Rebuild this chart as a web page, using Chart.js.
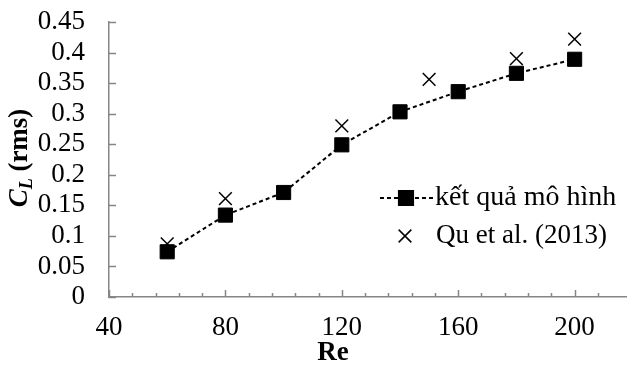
<!DOCTYPE html>
<html>
<head>
<meta charset="utf-8">
<script src="https://cdn.jsdelivr.net/npm/chart.js@4.4.1/dist/chart.umd.min.js"></script>
<style>
  html, body { margin: 0; padding: 0; background: #ffffff; overflow: hidden; }
  #wrap { position: relative; width: 627px; height: 371px; }
</style>
</head>
<body>
<div id="wrap"><canvas id="c" width="627" height="371"></canvas></div>
<script>
// ---- data ----
const reModel = [60, 80, 100, 120, 140, 160, 180, 200];
const clModel = [0.074, 0.134, 0.171, 0.249, 0.303, 0.336, 0.366, 0.389];
const reQu = [60, 80, 120, 150, 180, 200];
const clQu = [0.087, 0.161, 0.280, 0.356, 0.390, 0.422];
const seriesNames = ['kết quả mô hình', 'Qu et al. (2013)'];
const xTickLabels = ['40', '80', '120', '160', '200'];
const yTickLabels = ['0', '0.05', '0.1', '0.15', '0.2', '0.25', '0.3', '0.35', '0.4', '0.45'];
const xTitle = 'Re';
const yTitleMain = 'C';
const yTitleSub = 'L';
const yTitleRest = ' (rms)';

const FONT = "'Liberation Serif', 'Times New Roman', serif";
const AXIS_COLOR = '#868686';

const pairs = (xs, ys) => xs.map((x, i) => ({ x: x, y: ys[i] }));

const decorPlugin = {
  id: 'decor',
  afterDraw(chart) {
    const ctx = chart.ctx;
    const ca = chart.chartArea;
    const xs = chart.scales.x, ys = chart.scales.y;
    ctx.save();
    // inward tick marks
    ctx.strokeStyle = AXIS_COLOR;
    ctx.lineWidth = 1.5;
    ys.ticks.forEach(t => {
      const yp = Math.round(ys.getPixelForValue(t.value)) + 0.5;
      ctx.beginPath();
      ctx.moveTo(ca.left, yp);
      ctx.lineTo(ca.left + 7, yp);
      ctx.stroke();
    });
    xs.ticks.forEach(t => {
      const v = Math.round(t.value);
      if (v % 8 !== 0) return;
      const xp = Math.round(xs.getPixelForValue(t.value)) + 0.5;
      const len = (v % 40 === 0) ? 7 : 4;
      ctx.beginPath();
      ctx.moveTo(xp, ca.bottom);
      ctx.lineTo(xp, ca.bottom - len);
      ctx.stroke();
    });

    // axis titles
    ctx.fillStyle = '#000';
    ctx.textBaseline = 'alphabetic';
    ctx.font = 'bold 27px ' + FONT;
    ctx.textAlign = 'center';
    ctx.fillText(xTitle, 333, 360);

    // y title (rotated, with subscript)
    const fMain = 'italic bold 27px ' + FONT;
    const fSub = 'italic bold 18px ' + FONT;
    const fRest = 'bold 27px ' + FONT;
    ctx.font = fMain; const w1 = ctx.measureText(yTitleMain).width;
    ctx.font = fSub; const w2 = ctx.measureText(yTitleSub).width;
    ctx.font = fRest; const w3 = ctx.measureText(yTitleRest).width;
    const total = w1 + w2 + w3;
    ctx.translate(27, 158);
    ctx.rotate(-Math.PI / 2);
    ctx.textAlign = 'left';
    let px = -total / 2;
    ctx.font = fMain; ctx.fillText(yTitleMain, px, 0); px += w1;
    ctx.font = fSub; ctx.fillText(yTitleSub, px, 5); px += w2;
    ctx.font = fRest; ctx.fillText(yTitleRest, px, 0);
    ctx.setTransform(1, 0, 0, 1, 0, 0);

    // legend
    const d0 = chart.data.datasets[0], d1 = chart.data.datasets[1];
    ctx.textBaseline = 'middle';
    ctx.textAlign = 'left';
    // row 1
    const r1 = 198;
    ctx.strokeStyle = d0.borderColor;
    ctx.lineWidth = d0.borderWidth;
    ctx.setLineDash(d0.borderDash);
    ctx.beginPath();
    ctx.moveTo(380, r1);
    ctx.lineTo(433, r1);
    ctx.stroke();
    ctx.setLineDash([]);
    ctx.fillStyle = '#000';
    Chart.helpers.drawPoint(ctx, { pointStyle: 'rect', radius: d0.pointRadius, borderWidth: 1 }, 406, r1);
    ctx.font = '28px ' + FONT;
    ctx.fillText(seriesNames[0], 435, r1);
    // row 2
    const r2 = 236;
    ctx.strokeStyle = d1.pointBorderColor;
    ctx.lineWidth = d1.pointBorderWidth;
    Chart.helpers.drawPoint(ctx, { pointStyle: 'crossRot', radius: d1.pointRadius, borderWidth: d1.pointBorderWidth }, 405, r2);
    ctx.font = '27px ' + FONT;
    ctx.fillText(seriesNames[1], 436, r2);
    ctx.restore();
  }
};

const chart = new Chart(document.getElementById('c'), {
  type: 'scatter',
  data: {
    datasets: [
      {
        label: seriesNames[0],
        data: pairs(reModel, clModel),
        showLine: true,
        borderColor: '#000',
        borderWidth: 2,
        borderDash: [4, 3],
        pointStyle: 'rect',
        pointRadius: 10,
        pointBackgroundColor: '#000',
        pointBorderColor: '#000',
        pointBorderWidth: 1,
        pointHoverRadius: 10
      },
      {
        label: seriesNames[1],
        data: pairs(reQu, clQu),
        showLine: false,
        pointStyle: 'crossRot',
        pointRadius: 9,
        pointBorderColor: '#000',
        pointBackgroundColor: '#000',
        pointBorderWidth: 1.5,
        pointHoverRadius: 9
      }
    ]
  },
  options: {
    responsive: false,
    animation: false,
    devicePixelRatio: 1,
    layout: { autoPadding: false, padding: { left: 0, right: 0, top: 22, bottom: 0 } },
    plugins: { legend: { display: false }, tooltip: { enabled: false } },
    scales: {
      x: {
        type: 'linear',
        min: 40,
        max: 218,
        grid: { display: false, drawTicks: false },
        border: { display: true, color: AXIS_COLOR, width: 1.5 },
        ticks: {
          stepSize: 8,
          autoSkip: false,
          maxRotation: 0,
          padding: 15,
          color: '#000',
          font: { family: FONT, size: 27 },
          callback: (v) => {
            const r = Math.round(v);
            const idx = xTickLabels.indexOf(String(r));
            return (r % 40 === 0 && idx >= 0) ? xTickLabels[idx] : '';
          }
        },
        afterFit: (s) => { s.height = 74; s.paddingLeft = 0; s.paddingRight = 0; }
      },
      y: {
        type: 'linear',
        min: 0,
        max: 0.45,
        grid: { display: false, drawTicks: false },
        border: { display: true, color: AXIS_COLOR, width: 1.5 },
        ticks: {
          stepSize: 0.05,
          autoSkip: false,
          padding: 24,
          color: '#000',
          font: { family: FONT, size: 27 },
          callback: (v) => yTickLabels[Math.round(v * 20)] ?? ''
        },
        afterFit: (s) => { s.width = 109; s.paddingTop = 0; s.paddingBottom = 0; }
      }
    }
  },
  plugins: [decorPlugin]
});
</script>
</body>
</html>
